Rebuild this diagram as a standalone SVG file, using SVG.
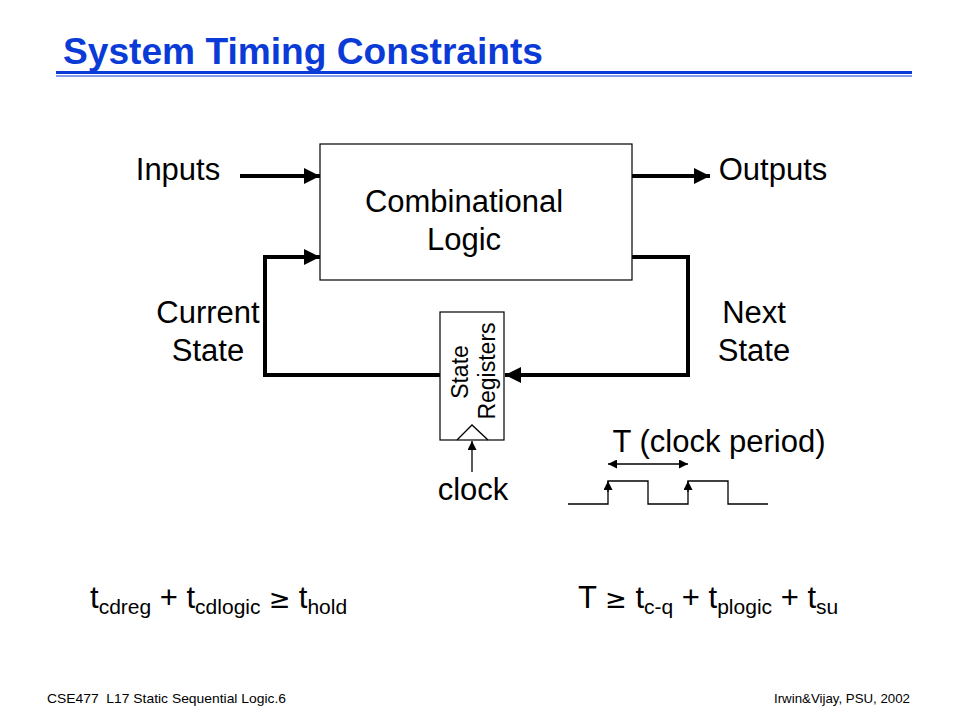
<svg xmlns="http://www.w3.org/2000/svg" width="960" height="720" viewBox="0 0 960 720">
<defs>
<marker id="ah" viewBox="0 0 10 10" refX="10" refY="5" markerWidth="4" markerHeight="4" orient="auto" markerUnits="strokeWidth"><path d="M0,0 L10,5 L0,10 z" fill="#000"/></marker>
<marker id="ahs" viewBox="0 0 10 10" refX="10" refY="5" markerWidth="9" markerHeight="9" orient="auto-start-reverse" markerUnits="userSpaceOnUse"><path d="M0,0 L10,5 L0,10 z" fill="#000"/></marker>
</defs>
<style>
text{font-family:"Liberation Sans",Arial,sans-serif;fill:#000}
.lbl{font-size:31px}
.sub{font-size:21px}
.box{fill:#fff;stroke:#000;stroke-width:1.2}
.wire{fill:none;stroke:#000;stroke-width:4}
.thin{fill:none;stroke:#000;stroke-width:1.3}
.foot{font-size:13px}
</style>
<rect width="960" height="720" fill="#fff"/>
<g id="title">
<text x="63" y="64" font-size="36" font-weight="bold" style="fill:#0b3bd6;font-family:'Liberation Sans Narrow','Liberation Sans',sans-serif" textLength="480" lengthAdjust="spacingAndGlyphs">System Timing Constraints</text>
<line x1="56" y1="72.5" x2="912" y2="72.5" stroke="#0b3bd6" stroke-width="3"/>
<line x1="56" y1="76" x2="912" y2="76" stroke="#0b3bd6" stroke-width="1"/>
</g>
<g id="connectors">
<line class="wire" x1="240" y1="176" x2="320" y2="176" marker-end="url(#ah)"/>
<line class="wire" x1="632" y1="176" x2="710" y2="176" marker-end="url(#ah)"/>
<polyline class="wire" points="440,375 265,375 265,257 320,257" marker-end="url(#ah)"/>
<polyline class="wire" points="632,257 688,257 688,375 505,375" marker-end="url(#ah)"/>
<line class="thin" x1="472" y1="472" x2="472" y2="441" marker-end="url(#ahs)"/>
<line class="thin" x1="608" y1="464" x2="688" y2="464" marker-start="url(#ahs)" marker-end="url(#ahs)"/>
</g>
<g id="comb-logic">
<rect class="box" x="320" y="144" width="312" height="136"/>
<text class="lbl" x="464" y="212" text-anchor="middle">Combinational</text>
<text class="lbl" x="464" y="250" text-anchor="middle">Logic</text>
</g>
<g id="state-registers">
<rect class="box" x="440" y="312" width="64" height="128"/>
<polyline class="thin" points="457,440 472,425 488,440" stroke-width="1"/>
<text font-size="23" transform="translate(468,372) rotate(-90)" text-anchor="middle">State</text>
<text font-size="23" transform="translate(495,371) rotate(-90)" text-anchor="middle">Registers</text>
</g>
<g id="labels">
<text class="lbl" x="178" y="180" text-anchor="middle">Inputs</text>
<text class="lbl" x="773" y="180" text-anchor="middle">Outputs</text>
<text class="lbl" x="208" y="323" text-anchor="middle">Current</text>
<text class="lbl" x="208" y="361" text-anchor="middle">State</text>
<text class="lbl" x="754" y="323" text-anchor="middle">Next</text>
<text class="lbl" x="754" y="361" text-anchor="middle">State</text>
<text class="lbl" x="473" y="500" text-anchor="middle">clock</text>
<text class="lbl" x="719" y="452" text-anchor="middle">T (clock period)</text>
</g>
<g id="clock-waveform">
<polyline class="thin" points="568,504 608,504 608,481 648,481 648,504 688,504 688,481 728,481 728,504 768,504"/>
<line class="thin" x1="608" y1="492" x2="608" y2="481" marker-end="url(#ahs)"/>
<line class="thin" x1="688" y1="492" x2="688" y2="481" marker-end="url(#ahs)"/>
</g>
<g id="formulas">
<text class="lbl" x="90" y="608">t<tspan class="sub" dy="6">cdreg</tspan><tspan dy="-6"> + t</tspan><tspan class="sub" dy="6">cdlogic</tspan><tspan dy="-6" font-family="'DejaVu Sans',sans-serif" font-size="26"> ≥ </tspan><tspan dy="0">t</tspan><tspan class="sub" dy="6">hold</tspan></text>
<text class="lbl" x="578" y="608">T <tspan font-family="'DejaVu Sans',sans-serif" font-size="26">≥</tspan> t<tspan class="sub" dy="6">c-q</tspan><tspan dy="-6"> + t</tspan><tspan class="sub" dy="6">plogic</tspan><tspan dy="-6"> + t</tspan><tspan class="sub" dy="6">su</tspan></text>
</g>
<g id="footer">
<text class="foot" x="47" y="703" xml:space="preserve" textLength="239" lengthAdjust="spacingAndGlyphs">CSE477  L17 Static Sequential Logic.6</text>
<text class="foot" x="910" y="703" text-anchor="end" textLength="136" lengthAdjust="spacingAndGlyphs">Irwin&amp;Vijay, PSU, 2002</text>
</g>
</svg>
